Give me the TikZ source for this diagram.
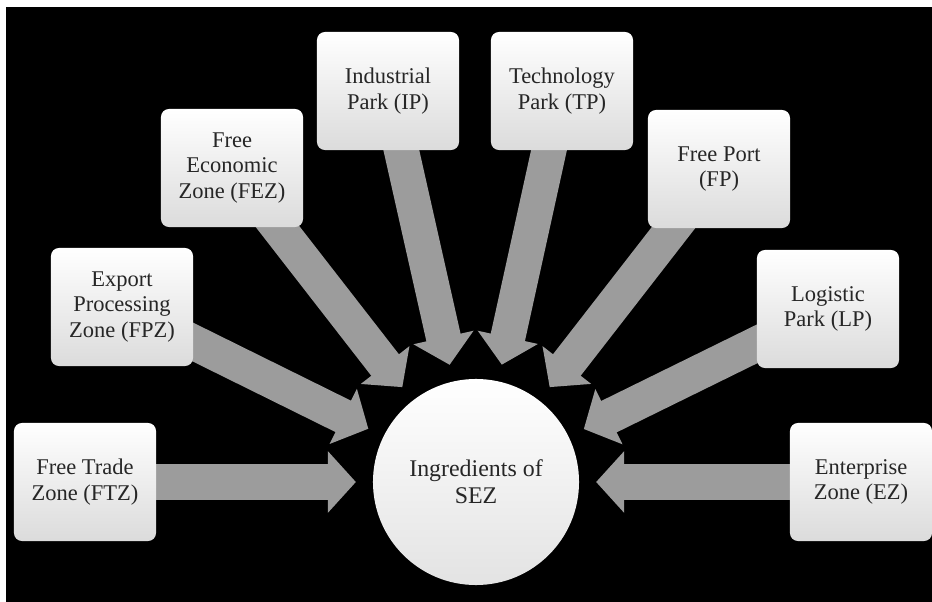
\documentclass[tikz,border=0pt]{standalone}
\usepackage{fontspec}
\setmainfont{Liberation Serif}
\usetikzlibrary{arrows.meta}

\pgfdeclarelayer{back}
\pgfdeclarelayer{flows}
\pgfsetlayers{back,flows,main}

\definecolor{zonetext}{HTML}{262626}
\definecolor{flowgray}{HTML}{9C9C9C}

\tikzset{
    zone/.style={rounded corners=0.2cm, top color=white, bottom color=gray!28,
        minimum width=3.55cm, minimum height=2.95cm, align=center,
        text=zonetext, font=\rmfamily\fontsize{16}{18}\selectfont},
    core/.style={circle, top color=white, bottom color=gray!22,
        minimum size=5.15cm, align=center,
        text=zonetext, font=\rmfamily\fontsize{17}{19}\selectfont},
    flow/.style={line width=0.875cm, draw=flowgray,
        -{Triangle[width=1.5cm,length=0.7cm]}, shorten >=0.42cm}
}

\begin{document}
\begin{tikzpicture}[x=0.025cm, y=-0.025cm]
    % Canvas
    \useasboundingbox (0,0) rectangle (932,602);
    \begin{pgfonlayer}{back}
        \fill[white] (0,0) rectangle (932,602);
        \fill[black] (6,7) rectangle (932,602);
    \end{pgfonlayer}

    % Centre
    \node[core] (core) at (476,482) {Ingredients of\\SEZ};

    % Zones, left to right
    \node[zone] (ftz) at (85,482)  {Free Trade\\Zone (FTZ)};
    \node[zone] (fpz) at (122,307) {Export\\Processing\\Zone (FPZ)};
    \node[zone] (fez) at (232,168) {Free\\Economic\\Zone (FEZ)};
    \node[zone] (ip)  at (388,91)  {Industrial\\Park (IP)};
    \node[zone] (tp)  at (562,91)  {Technology\\Park (TP)};
    \node[zone] (fp)  at (719,169) {Free Port\\(FP)};
    \node[zone] (lp)  at (828,309) {Logistic\\Park (LP)};
    \node[zone] (ez)  at (861,482) {Enterprise\\Zone (EZ)};

    % Arrows into the centre
    \begin{pgfonlayer}{flows}
        \foreach \z in {ftz,fpz,fez,ip,tp,fp,lp,ez}
            \draw[flow] (\z.center) -- (core);
    \end{pgfonlayer}
\end{tikzpicture}
\end{document}
